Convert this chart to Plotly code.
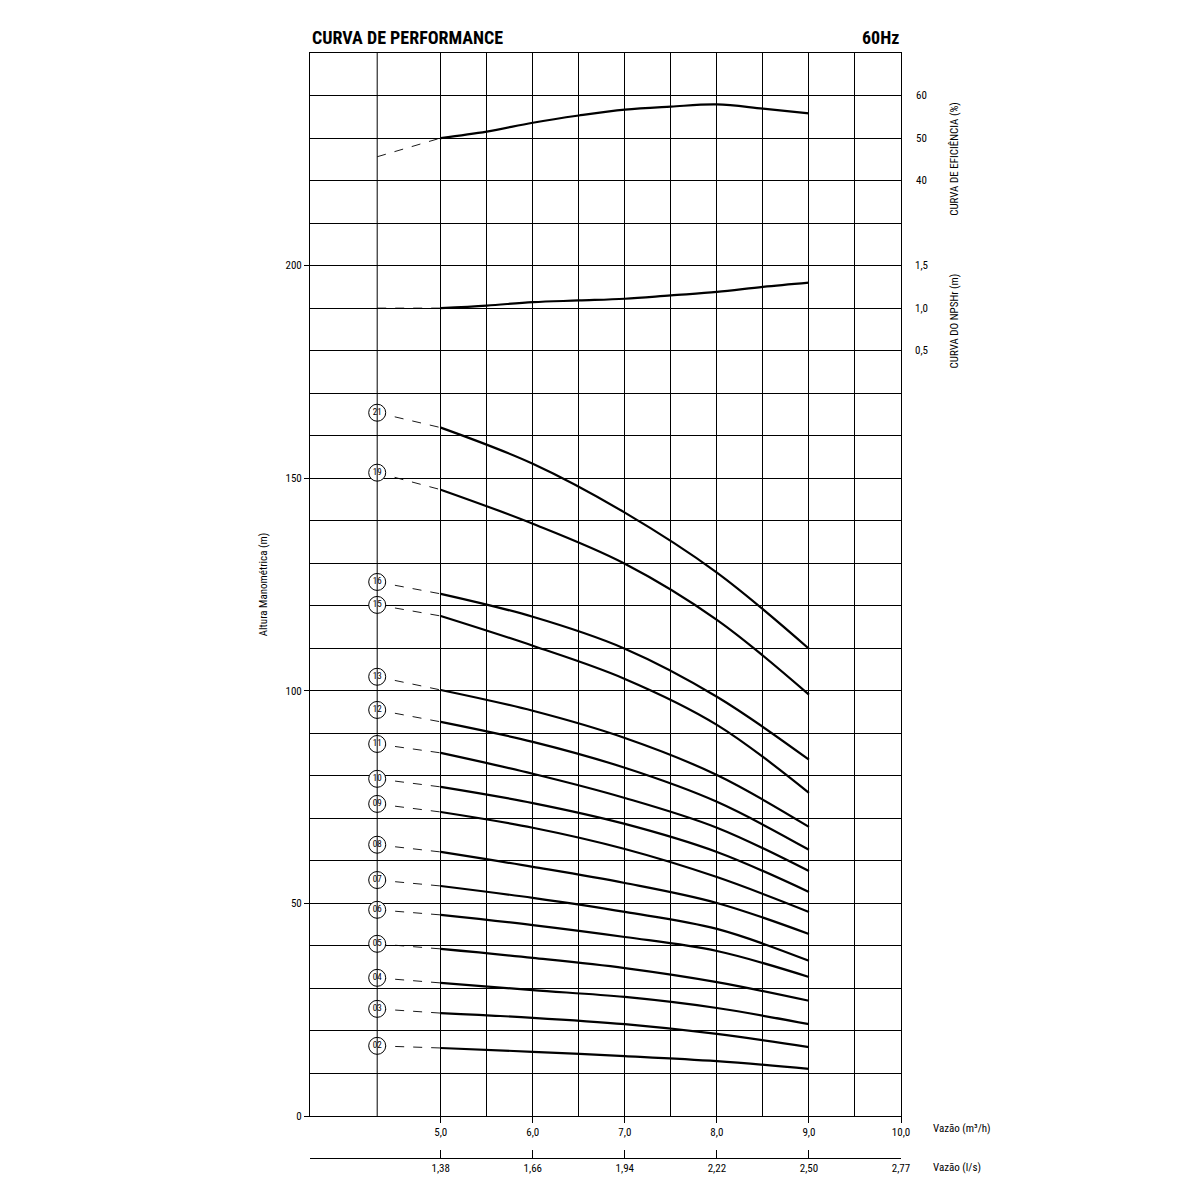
import plotly.graph_objects as go

# vazão (m3/h) where the solid curves are read
q = [5.0, 6.0, 7.0, 8.0, 9.0]
q_start = 4.31  # column of the stage labels

stages = ['21', '19', '16', '15', '13', '12', '11', '10', '09', '08', '07', '06', '05', '04', '03', '02']
label_h = [165.4, 151.3, 125.6, 120.2, 103.3, 95.5, 87.5, 79.3, 73.4, 63.8, 55.5, 48.5, 40.5, 32.5, 25.2, 16.5]
head = [
    [161.9, 153.4, 141.9, 127.8, 109.9],
    [147.3, 139.3, 129.9, 116.7, 99.1],
    [122.8, 117.4, 109.9, 98.6, 83.8],
    [117.6, 110.6, 102.8, 92.0, 76.0],
    [100.2, 95.3, 88.9, 80.2, 68.0],
    [92.7, 88.0, 81.9, 73.9, 62.6],
    [85.4, 80.5, 74.8, 67.8, 57.6],
    [77.4, 73.6, 68.7, 62.1, 52.7],
    [71.5, 67.8, 62.8, 56.2, 48.0],
    [62.1, 58.6, 54.8, 50.1, 42.8],
    [54.1, 51.3, 48.0, 44.0, 36.5],
    [47.3, 44.9, 42.1, 38.8, 32.7],
    [39.3, 37.2, 34.8, 31.5, 27.1],
    [31.3, 29.6, 28.0, 25.4, 21.6],
    [24.2, 23.1, 21.6, 19.3, 16.2],
    [16.0, 15.1, 14.1, 12.9, 11.1],
]

# efficiency (%) and NPSHr (m), drawn on their own right-hand scales
q_fine = [5.0, 5.5, 6.0, 6.5, 7.0, 7.5, 8.0, 8.5, 9.0]
eff = [50.0, 51.5, 53.6, 55.3, 56.7, 57.4, 57.9, 56.9, 55.8]
eff_start = 45.6
npsh = [1.0, 1.03, 1.07, 1.09, 1.11, 1.15, 1.19, 1.25, 1.30]
npsh_start = 1.0

eff_ticks = [40, 50, 60]
npsh_ticks = [0.5, 1.0, 1.5]
npsh_tick_text = ['0,5', '1,0', '1,5']

m3h_ticks = [5, 6, 7, 8, 9, 10]
m3h_text = ['5,0', '6,0', '7,0', '8,0', '9,0', '10,0']
ls_text = ['1,38', '1,66', '1,94', '2,22', '2,50', '2,77']


def eff_y(e):
    return 180 + e


def npsh_y(n):
    return 170 + 20 * n


FONT = 'Liberation Sans Narrow, Roboto Condensed, Liberation Sans, Arial'
solid = dict(color='black', width=2.2, shape='spline')
dash = dict(color='black', width=0.9, dash='dash')

fig = go.Figure()

for name, lh, hv in zip(stages, label_h, head):
    fig.add_trace(go.Scatter(x=[q_start, q[0]], y=[lh, hv[0]], mode='lines', line=dash))
    fig.add_trace(go.Scatter(x=q, y=hv, mode='lines', line=solid))
    fig.add_trace(go.Scatter(x=[q_start], y=[lh], mode='markers+text', text=[name],
                             textposition='middle center',
                             textfont=dict(size=9, family=FONT, color='black'),
                             marker=dict(size=17, color='white', line=dict(color='black', width=1))))

fig.add_trace(go.Scatter(x=[q_start, q_fine[0]], y=[eff_y(eff_start), eff_y(eff[0])], mode='lines', line=dash))
fig.add_trace(go.Scatter(x=q_fine, y=[eff_y(e) for e in eff], mode='lines', line=solid))
fig.add_trace(go.Scatter(x=[q_start, q_fine[0]], y=[npsh_y(npsh_start), npsh_y(npsh[0])], mode='lines', line=dash))
fig.add_trace(go.Scatter(x=q_fine, y=[npsh_y(n) for n in npsh], mode='lines', line=solid))

# invisible trace so the second (l/s) axis is drawn
fig.add_trace(go.Scatter(x=m3h_ticks, y=[0] * 6, xaxis='x2', mode='markers', marker=dict(opacity=0)))

fig.add_vline(x=q_start, line=dict(color='black', width=1))

txt = dict(size=11, family=FONT, color='black')
for e in eff_ticks:
    fig.add_annotation(x=1.035, xref='paper', y=eff_y(e), yref='y', text=str(e), showarrow=False,
                       font=txt, xanchor='center')
for n, t in zip(npsh_ticks, npsh_tick_text):
    fig.add_annotation(x=1.035, xref='paper', y=npsh_y(n), yref='y', text=t, showarrow=False,
                       font=txt, xanchor='center')
fig.add_annotation(x=1.105, xref='paper', y=eff_y(45), yref='y', text='CURVA DE EFICIÊNCIA (%)',
                   textangle=-90, showarrow=False, font=txt)
fig.add_annotation(x=1.105, xref='paper', y=npsh_y(0.85), yref='y', text='CURVA DO NPSHr (m)',
                   textangle=-90, showarrow=False, font=txt)
fig.add_annotation(x=1.05, xref='paper', y=0.019, yref='paper', text='Vazão (m³/h)', showarrow=False,
                   xanchor='left', font=txt)
fig.add_annotation(x=1.05, xref='paper', y=-0.016, yref='paper', text='Vazão (l/s)', showarrow=False,
                   xanchor='left', font=txt)
title_font = dict(size=18, family=FONT, color='black')
fig.add_annotation(x=0, xref='paper', y=1.0, yref='paper', yshift=28, text='<b>CURVA DE PERFORMANCE</b>',
                   showarrow=False, xanchor='left', font=title_font)
fig.add_annotation(x=1, xref='paper', y=1.0, yref='paper', yshift=28, text='<b>60Hz</b>',
                   showarrow=False, xanchor='right', font=title_font)

axis_font = dict(size=11, family=FONT, color='black')
fig.update_layout(
    width=1200, height=1200,
    margin=dict(l=302, r=307, t=45, b=50, autoexpand=False),
    plot_bgcolor='white', paper_bgcolor='white',
    font=dict(family=FONT, color='black'),
    showlegend=False,
    xaxis=dict(range=[3.58, 10], tickvals=m3h_ticks, ticktext=m3h_text, showgrid=True,
               gridcolor='black', gridwidth=1, showline=True, linecolor='black', mirror=True,
               ticks='outside', ticklen=6, tickcolor='black', tickfont=axis_font, zeroline=False,
               minor=dict(tickvals=[5.5, 6.5, 7.5, 8.5, 9.5], showgrid=True, gridcolor='black', gridwidth=1)),
    xaxis2=dict(range=[3.58, 10], overlaying='x', anchor='free', position=0, side='bottom',
                tickvals=m3h_ticks, ticktext=ls_text, showline=True, linecolor='black',
                ticks='inside', ticklen=8, tickcolor='black', tickfont=axis_font, showgrid=False,
                zeroline=False),
    yaxis=dict(range=[0, 250], domain=[0.038, 1], tickvals=[0, 50, 100, 150, 200], showgrid=True,
               gridcolor='black', gridwidth=1, showline=True, linecolor='black', mirror=True,
               ticks='outside', ticklen=5, tickcolor='black', tickfont=axis_font, zeroline=False,
               title=dict(text='Altura Manométrica (m)', font=axis_font),
               minor=dict(dtick=10, showgrid=True, gridcolor='black', gridwidth=1)),
)

fig.write_html('out.html')
